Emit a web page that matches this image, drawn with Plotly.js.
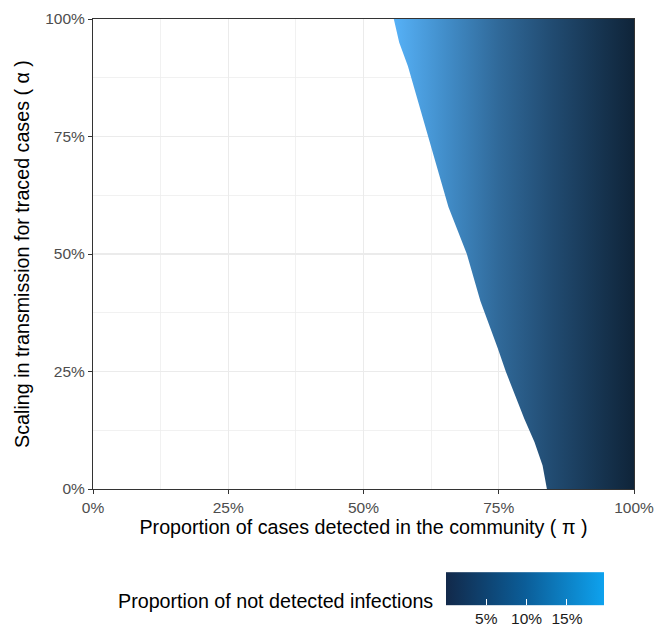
<!DOCTYPE html>
<html>
<head>
<meta charset="utf-8">
<script src="https://cdn.plot.ly/plotly-3.0.1.min.js"></script>
<style>html,body{margin:0;padding:0;background:#fff}#chart{width:654px;height:626px}</style>
</head>
<body>
<div id="chart"></div>
<script>
// Boundary of the region where the outbreak is controlled
const boundaryAlpha = [0, 0.05, 0.10, 0.15, 0.20, 0.25, 0.30, 0.40, 0.50, 0.60, 0.70, 0.80, 0.90, 0.95, 1.00];
const boundaryPi    = [0.839, 0.831, 0.816, 0.797, 0.780, 0.763, 0.748, 0.716, 0.691, 0.657, 0.632, 0.607, 0.582, 0.566, 0.556];
// Proportion of not detected infections at the boundary points
const boundaryValue = [0.070, 0.073, 0.080, 0.088, 0.095, 0.103, 0.109, 0.123, 0.134, 0.149, 0.160, 0.171, 0.182, 0.189, 0.196];
// Value along pi (colour depends on pi across the region)
const gradPi    = [0.556, 0.65, 0.75, 0.85, 0.93, 1.00];
const gradValue = [0.196, 0.155, 0.110, 0.066, 0.031, 0.000];
const piMax = 1, alphaMin = 0, alphaMax = 1;
const valueMax = 0.196;
const axisTicks = [0, 0.25, 0.5, 0.75, 1];
const minorTicks = [0.125, 0.375, 0.625, 0.875];
const barTicks = [0.05, 0.10, 0.15];
const barTickText = ['5%', '10%', '15%'];

const dataScale = [[0, '#0f2439'], [0.25, '#1c4162'], [0.5, '#2b5f8c'], [0.75, '#3e87c1'], [1, '#56B1F7']];
const barScale = [[0, '#12294a'], [0.5, '#0b5d98'], [1, '#0ea2ee']];

function hex2rgb(h){h=h.replace('#','');return [0,2,4].map(i=>parseInt(h.substr(i,2),16));}
function valueToColor(v){
  const t = Math.max(0, Math.min(1, v / valueMax));
  for (let i = 1; i < dataScale.length; i++) {
    if (t <= dataScale[i][0]) {
      const a = dataScale[i-1], b = dataScale[i];
      const f = (t - a[0]) / (b[0] - a[0]);
      const ca = hex2rgb(a[1]), cb = hex2rgb(b[1]);
      const c = ca.map((x, k) => Math.round(x + (cb[k] - x) * f));
      return 'rgb(' + c.join(',') + ')';
    }
  }
  return dataScale[dataScale.length-1][1];
}
const gStart = gradPi[0], gStop = gradPi[gradPi.length-1];
const fillScale = gradPi.map((p, i) => [(p - gStart) / (gStop - gStart), valueToColor(gradValue[i])]);

const polyX = boundaryPi.concat([piMax, piMax]);
const polyY = boundaryAlpha.concat([alphaMax, alphaMin]);

// colour bar geometry (plot area is 541 x 470 px)
const plotW = 541, plotH = 470;
const barLen = 158, barThick = 33;
const barCenterX = 0.7985, barY = -0.2415;
const barLeft = barCenterX - (barLen / plotW) / 2;
const barTopY = -(571 - 489) / plotH;

const region = {
  type: 'scatter', mode: 'lines', x: polyX, y: polyY,
  fill: 'toself', line: {width: 0, color: 'rgba(0,0,0,0)'},
  fillgradient: {type: 'horizontal', colorscale: fillScale, start: gStart, stop: gStop},
  hoverinfo: 'skip', showlegend: false
};
const font = 'Liberation Sans, Arial, sans-serif';
const scaleTrace = {
  type: 'scatter', mode: 'markers', x: boundaryPi, y: boundaryAlpha,
  marker: {
    color: boundaryValue, colorscale: barScale, cmin: 0, cmax: valueMax, opacity: 0, size: 1,
    showscale: true,
    colorbar: {
      orientation: 'h', x: barCenterX, xanchor: 'center', y: barY, yanchor: 'middle',
      len: barLen, lenmode: 'pixels', thickness: barThick, xpad: 0, ypad: 0, outlinewidth: 0,
      tickvals: barTicks, ticktext: barTickText, ticks: 'inside', ticklen: 6, tickcolor: '#ffffff', tickwidth: 1,
      tickfont: {family: font, size: 15.5, color: '#1a1a1a'}
    }
  },
  hoverinfo: 'skip', showlegend: false
};

const topTicks = barTicks.map(v => ({
  type: 'line', xref: 'paper', yref: 'paper',
  x0: barLeft + (v / valueMax) * (barLen / plotW), x1: barLeft + (v / valueMax) * (barLen / plotW),
  y0: barTopY, y1: barTopY - 6 / plotH,
  line: {color: '#ffffff', width: 1}, layer: 'above'
}));

const axisCommon = {
  range: [0, 1], tickvals: axisTicks, tickformat: '.0%', showgrid: true, gridcolor: '#EBEBEB', gridwidth: 1.1,
  minor: {tickvals: minorTicks, showgrid: true, gridcolor: '#EEEEEE', gridwidth: 0.8},
  zeroline: false, showline: true, linecolor: '#333333', linewidth: 1, mirror: true,
  ticks: 'outside', ticklen: 4, tickcolor: '#333333', tickwidth: 1, automargin: false,
  ticklabeloverflow: 'allow',
  tickfont: {family: font, size: 15.5, color: '#4d4d4d'}
};
const layout = {
  width: 654, height: 626,
  margin: {l: 93, r: 20, t: 19, b: 137, autoexpand: false},
  paper_bgcolor: '#ffffff', plot_bgcolor: '#ffffff',
  font: {family: font},
  xaxis: Object.assign({}, axisCommon, {
    title: {text: 'Proportion of cases detected in the community ( π )', font: {family: font, size: 19.7, color: '#000'}, standoff: 3}
  }),
  yaxis: Object.assign({}, axisCommon, {
    title: {text: 'Scaling in transmission for traced cases ( α )', font: {family: font, size: 19.7, color: '#000'}, standoff: 10}
  }),
  annotations: [{
    text: 'Proportion of not detected infections', xref: 'paper', yref: 'paper',
    x: 0.632, xanchor: 'right', y: -0.238, yanchor: 'middle', showarrow: false,
    font: {family: font, size: 19.7, color: '#000'}
  }],
  shapes: topTicks,
  showlegend: false
};
Plotly.newPlot('chart', [region, scaleTrace], layout, {displayModeBar: false, staticPlot: true});
</script>
</body>
</html>
